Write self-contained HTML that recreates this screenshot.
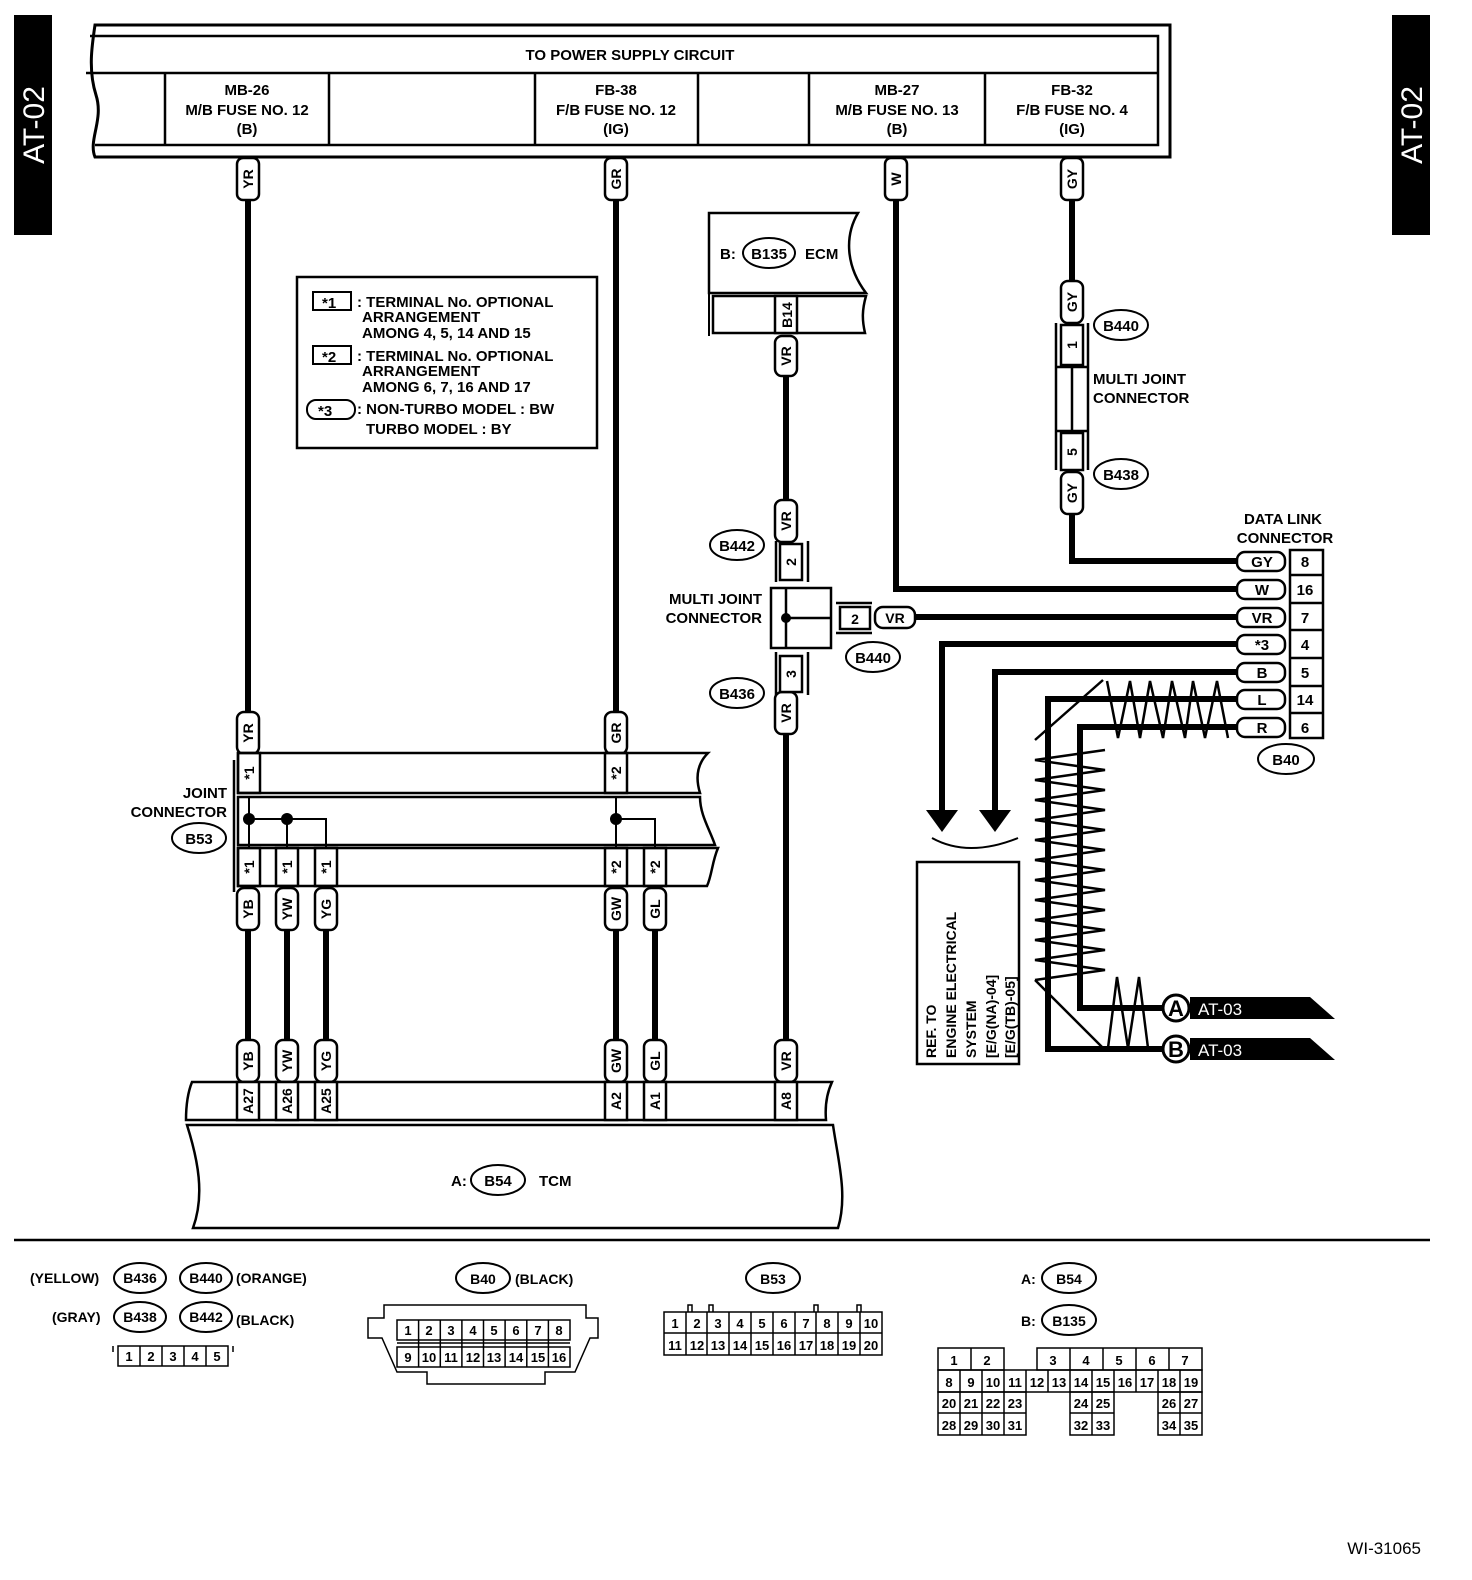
<!DOCTYPE html>
<html><head><meta charset="utf-8"><style>
html,body{margin:0;padding:0;background:#fff}
svg{display:block}
text{font-family:"Liberation Sans",Arial,sans-serif;font-weight:bold;fill:#000}
.t{font-size:15px}
.s{font-size:14px}
.g{font-size:13px;font-weight:normal}
</style></head><body>
<svg width="1472" height="1580" viewBox="0 0 1472 1580" xmlns="http://www.w3.org/2000/svg">
<rect width="1472" height="1580" fill="#fff"/>
<!-- side tabs -->
<rect x="14" y="15" width="38" height="220" fill="#000"/>
<text transform="translate(44,125) rotate(-90)" text-anchor="middle" style="font-size:30px;font-weight:normal;fill:#fff">AT-02</text>
<rect x="1392" y="15" width="38" height="220" fill="#000"/>
<text transform="translate(1422,125) rotate(-90)" text-anchor="middle" style="font-size:30px;font-weight:normal;fill:#fff">AT-02</text>

<g fill="none" stroke="#000" stroke-width="3">
<!-- top box -->
<path d="M95,25 L1170,25 L1170,157 L95,157 C88,140 104,120 96,95 C88,70 92,45 95,25Z"/>
<path d="M90,36 L1158,36 L1158,145 L95,145" stroke-width="2.5"/>
<line x1="86" y1="73" x2="1158" y2="73" stroke-width="2.5"/>
<g stroke-width="2.5">
<line x1="165" y1="73" x2="165" y2="145"/><line x1="329" y1="73" x2="329" y2="145"/>
<line x1="535" y1="73" x2="535" y2="145"/><line x1="698" y1="73" x2="698" y2="145"/>
<line x1="809" y1="73" x2="809" y2="145"/><line x1="985" y1="73" x2="985" y2="145"/>
</g>
</g>
<text x="630" y="60" text-anchor="middle" class="t">TO POWER SUPPLY CIRCUIT</text>
<g class="t" text-anchor="middle">
<text x="247" y="95">MB-26</text><text x="247" y="115">M/B FUSE NO. 12</text><text x="247" y="134">(B)</text>
<text x="616" y="95">FB-38</text><text x="616" y="115">F/B FUSE NO. 12</text><text x="616" y="134">(IG)</text>
<text x="897" y="95">MB-27</text><text x="897" y="115">M/B FUSE NO. 13</text><text x="897" y="134">(B)</text>
<text x="1072" y="95">FB-32</text><text x="1072" y="115">F/B FUSE NO. 4</text><text x="1072" y="134">(IG)</text>
</g>

<!-- thick wires -->
<g stroke="#000" stroke-width="6" fill="none">
<line x1="248" y1="198" x2="248" y2="712"/>
<line x1="616" y1="198" x2="616" y2="712"/>
<polyline points="896,198 896,589 1237,589"/>
<polyline points="1072,198 1072,282"/>
<polyline points="1072,513 1072,561 1237,561"/>
<line x1="786" y1="375" x2="786" y2="502"/>
<line x1="912" y1="617" x2="1237" y2="617"/>
<line x1="786" y1="733" x2="786" y2="1042"/>
<polyline points="1237,644 942,644 942,812"/>
<polyline points="1237,672 995,672 995,812"/>
<polyline points="1237,699 1048,699 1048,1049 1162,1049"/>
<polyline points="1237,727 1080,727 1080,1008 1162,1008"/>
<line x1="248" y1="928" x2="248" y2="1042"/>
<line x1="287" y1="928" x2="287" y2="1042"/>
<line x1="326" y1="928" x2="326" y2="1042"/>
<line x1="616" y1="928" x2="616" y2="1042"/>
<line x1="655" y1="928" x2="655" y2="1042"/>
</g>
<!-- arrowheads -->
<polygon points="926,810 958,810 942,832" fill="#000"/>
<polygon points="979,810 1011,810 995,832" fill="#000"/>
<path d="M932,838 Q968,858 1018,838" fill="none" stroke="#000" stroke-width="2"/>

<!-- shield zigzags -->
<g fill="none" stroke="#000" stroke-width="2.5">
<polyline points="1107,681 1118,738 1130,681 1140,738 1150,681 1163,738 1172,681 1185,738 1193,681 1205,738 1217,681 1228,738"/>
<polyline points="1035,740 1103,680"/>
<polyline points="1105,750 1035,760 1105,770 1035,780 1105,790 1035,800 1105,810 1035,820 1105,830 1035,840 1105,850 1035,860 1105,870 1035,880 1105,890 1035,900 1105,910 1035,920 1105,930 1035,940 1105,950 1035,960 1105,970 1035,980"/>
<polyline points="1035,980 1103,1048"/>
<polyline points="1108,1048 1117,977 1128,1048 1139,977 1148,1048"/>
</g>

<!-- AT-03 flags -->
<polygon points="1190,997 1310,997 1335,1019 1190,1019" fill="#000"/>
<circle cx="1176" cy="1008" r="13" fill="#fff" stroke="#000" stroke-width="3"/>
<text x="1176" y="1016" text-anchor="middle" style="font-size:22px">A</text>
<text x="1198" y="1015" style="font-size:17px;font-weight:normal;fill:#fff">AT-03</text>
<polygon points="1190,1038 1310,1038 1335,1060 1190,1060" fill="#000"/>
<circle cx="1176" cy="1049" r="13" fill="#fff" stroke="#000" stroke-width="3"/>
<text x="1176" y="1057" text-anchor="middle" style="font-size:22px">B</text>
<text x="1198" y="1056" style="font-size:17px;font-weight:normal;fill:#fff">AT-03</text>

<!-- REF box -->
<rect x="917" y="862" width="102" height="202" fill="#fff" stroke="#000" stroke-width="2.5"/>
<g class="s">
<text transform="translate(936,1058) rotate(-90)">REF. TO</text>
<text transform="translate(956,1058) rotate(-90)">ENGINE ELECTRICAL</text>
<text transform="translate(976,1058) rotate(-90)">SYSTEM</text>
<text transform="translate(996,1058) rotate(-90)">[E/G(NA)-04]</text>
<text transform="translate(1015,1058) rotate(-90)">[E/G(TB)-05]</text>
</g>

<!-- Data link connector -->
<text x="1283" y="524" text-anchor="middle" class="t">DATA LINK</text>
<text x="1285" y="543" text-anchor="middle" class="t">CONNECTOR</text>
<g stroke="#000" stroke-width="2.5" fill="#fff">
<rect x="1290" y="550" width="33" height="188"/>
<rect x="1237" y="552" width="48" height="19" rx="8"/>
<rect x="1237" y="580" width="48" height="19" rx="8"/>
<rect x="1237" y="608" width="48" height="19" rx="8"/>
<rect x="1237" y="635" width="48" height="19" rx="8"/>
<rect x="1237" y="663" width="48" height="19" rx="8"/>
<rect x="1237" y="690" width="48" height="19" rx="8"/>
<rect x="1237" y="718" width="48" height="19" rx="8"/>
<line x1="1290" y1="575" x2="1323" y2="575"/><line x1="1290" y1="603" x2="1323" y2="603"/>
<line x1="1290" y1="630" x2="1323" y2="630"/><line x1="1290" y1="658" x2="1323" y2="658"/>
<line x1="1290" y1="686" x2="1323" y2="686"/><line x1="1290" y1="713" x2="1323" y2="713"/>
</g>
<g class="t" text-anchor="middle">
<text x="1262" y="567">GY</text><text x="1305" y="567">8</text>
<text x="1262" y="595">W</text><text x="1305" y="595">16</text>
<text x="1262" y="623">VR</text><text x="1305" y="623">7</text>
<text x="1262" y="650">*3</text><text x="1305" y="650">4</text>
<text x="1262" y="678">B</text><text x="1305" y="678">5</text>
<text x="1262" y="705">L</text><text x="1305" y="705">14</text>
<text x="1262" y="733">R</text><text x="1305" y="733">6</text>
</g>
<ellipse cx="1286" cy="759" rx="28" ry="15" fill="#fff" stroke="#000" stroke-width="2"/>
<text x="1286" y="765" text-anchor="middle" class="t">B40</text>

<!-- ECM -->
<path d="M709,213 L858,213 C845,235 845,265 866,293 L709,293 Z" fill="#fff" stroke="#000" stroke-width="2.5"/>
<path d="M713,296 L866,296 C862,310 862,320 865,333 L713,333 Z" fill="#fff" stroke="#000" stroke-width="2.5"/>
<line x1="709" y1="293" x2="709" y2="336" stroke="#000" stroke-width="2"/>
<rect x="775" y="296" width="22" height="37" fill="#fff" stroke="#000" stroke-width="2.5"/>
<text transform="translate(792,315) rotate(-90)" text-anchor="middle" class="s">B14</text>
<text x="720" y="259" class="t">B:</text>
<ellipse cx="769" cy="253" rx="26" ry="15" fill="#fff" stroke="#000" stroke-width="2"/>
<text x="769" y="259" text-anchor="middle" class="t">B135</text>
<text x="805" y="259" class="t">ECM</text>

<!-- wire tags -->
<g stroke="#000" stroke-width="2.5" fill="#fff">
<rect x="237" y="158" width="22" height="42" rx="6"/>
<rect x="605" y="158" width="22" height="42" rx="6"/>
<rect x="885" y="158" width="22" height="42" rx="6"/>
<rect x="1061" y="158" width="22" height="42" rx="6"/>
<rect x="775" y="336" width="22" height="40" rx="7"/>
<rect x="1061" y="281" width="22" height="42" rx="7"/>
<rect x="1061" y="472" width="22" height="42" rx="7"/>
<rect x="775" y="500" width="22" height="42" rx="7"/>
<rect x="775" y="692" width="22" height="42" rx="7"/>
<rect x="237" y="712" width="22" height="42" rx="7"/>
<rect x="605" y="712" width="22" height="42" rx="7"/>
<rect x="237" y="888" width="22" height="42" rx="7"/>
<rect x="276" y="888" width="22" height="42" rx="7"/>
<rect x="315" y="888" width="22" height="42" rx="7"/>
<rect x="605" y="888" width="22" height="42" rx="7"/>
<rect x="644" y="888" width="22" height="42" rx="7"/>
<rect x="237" y="1040" width="22" height="42" rx="7"/>
<rect x="276" y="1040" width="22" height="42" rx="7"/>
<rect x="315" y="1040" width="22" height="42" rx="7"/>
<rect x="605" y="1040" width="22" height="42" rx="7"/>
<rect x="644" y="1040" width="22" height="42" rx="7"/>
<rect x="775" y="1040" width="22" height="42" rx="7"/>
<rect x="875" y="607" width="40" height="21" rx="8"/>
</g>
<g class="s" text-anchor="middle">
<text transform="translate(253,179) rotate(-90)">YR</text>
<text transform="translate(621,179) rotate(-90)">GR</text>
<text transform="translate(901,179) rotate(-90)">W</text>
<text transform="translate(1077,179) rotate(-90)">GY</text>
<text transform="translate(791,356) rotate(-90)">VR</text>
<text transform="translate(1077,302) rotate(-90)">GY</text>
<text transform="translate(1077,493) rotate(-90)">GY</text>
<text transform="translate(791,521) rotate(-90)">VR</text>
<text transform="translate(791,713) rotate(-90)">VR</text>
<text transform="translate(253,733) rotate(-90)">YR</text>
<text transform="translate(621,733) rotate(-90)">GR</text>
<text transform="translate(253,909) rotate(-90)">YB</text>
<text transform="translate(292,909) rotate(-90)">YW</text>
<text transform="translate(331,909) rotate(-90)">YG</text>
<text transform="translate(621,909) rotate(-90)">GW</text>
<text transform="translate(660,909) rotate(-90)">GL</text>
<text transform="translate(253,1061) rotate(-90)">YB</text>
<text transform="translate(292,1061) rotate(-90)">YW</text>
<text transform="translate(331,1061) rotate(-90)">YG</text>
<text transform="translate(621,1061) rotate(-90)">GW</text>
<text transform="translate(660,1061) rotate(-90)">GL</text>
<text transform="translate(791,1061) rotate(-90)">VR</text>
<text x="895" y="623">VR</text>
</g>

<!-- multi joint GY -->
<g stroke="#000" stroke-width="2.5" fill="#fff">
<line x1="1056" y1="323" x2="1056" y2="470"/><line x1="1088" y1="323" x2="1088" y2="470"/>
<rect x="1061" y="325" width="22" height="40"/>
<rect x="1061" y="433" width="22" height="37"/>
<line x1="1056" y1="367" x2="1088" y2="367"/><line x1="1056" y1="431" x2="1088" y2="431"/>
<line x1="1072" y1="367" x2="1072" y2="431"/>
</g>
<text transform="translate(1077,345) rotate(-90)" text-anchor="middle" class="s">1</text>
<text transform="translate(1077,452) rotate(-90)" text-anchor="middle" class="s">5</text>
<ellipse cx="1121" cy="325" rx="27" ry="15" fill="#fff" stroke="#000" stroke-width="2"/>
<text x="1121" y="331" text-anchor="middle" class="t">B440</text>
<ellipse cx="1121" cy="474" rx="27" ry="15" fill="#fff" stroke="#000" stroke-width="2"/>
<text x="1121" y="480" text-anchor="middle" class="t">B438</text>
<text x="1093" y="384" class="t">MULTI JOINT</text>
<text x="1093" y="403" class="t">CONNECTOR</text>

<!-- multi joint VR -->
<g stroke="#000" stroke-width="2.5" fill="#fff">
<line x1="776" y1="541" x2="776" y2="582"/><line x1="808" y1="541" x2="808" y2="582"/>
<rect x="780" y="544" width="22" height="36"/>
<rect x="771" y="588" width="60" height="60"/>
<line x1="786" y1="588" x2="786" y2="648"/><line x1="786" y1="618" x2="831" y2="618"/>
<line x1="836" y1="603" x2="872" y2="603"/><line x1="836" y1="633" x2="872" y2="633"/>
<rect x="840" y="607" width="30" height="22"/>
<line x1="776" y1="652" x2="776" y2="695"/><line x1="808" y1="652" x2="808" y2="695"/>
<rect x="780" y="656" width="22" height="36"/>
</g>
<circle cx="786" cy="618" r="5" fill="#000"/>
<text transform="translate(796,562) rotate(-90)" text-anchor="middle" class="s">2</text>
<text transform="translate(796,674) rotate(-90)" text-anchor="middle" class="s">3</text>
<text x="855" y="624" text-anchor="middle" class="s">2</text>
<ellipse cx="737" cy="545" rx="27" ry="15" fill="#fff" stroke="#000" stroke-width="2"/>
<text x="737" y="551" text-anchor="middle" class="t">B442</text>
<ellipse cx="737" cy="693" rx="27" ry="15" fill="#fff" stroke="#000" stroke-width="2"/>
<text x="737" y="699" text-anchor="middle" class="t">B436</text>
<ellipse cx="873" cy="657" rx="27" ry="15" fill="#fff" stroke="#000" stroke-width="2"/>
<text x="873" y="663" text-anchor="middle" class="t">B440</text>
<text x="762" y="604" text-anchor="end" class="t">MULTI JOINT</text>
<text x="762" y="623" text-anchor="end" class="t">CONNECTOR</text>

<!-- legend box -->
<rect x="297" y="277" width="300" height="171" fill="#fff" stroke="#000" stroke-width="2.5"/>
<g stroke="#000" stroke-width="2" fill="#fff">
<rect x="313" y="292" width="38" height="18"/>
<rect x="313" y="346" width="38" height="18"/>
<rect x="307" y="400" width="48" height="19" rx="9"/>
</g>
<g class="t">
<text x="322" y="308">*1</text><text x="322" y="362">*2</text><text x="318" y="416">*3</text>
<text x="357" y="307">: TERMINAL No. OPTIONAL</text>
<text x="362" y="322">ARRANGEMENT</text>
<text x="362" y="338">AMONG 4, 5, 14 AND 15</text>
<text x="357" y="361">: TERMINAL No. OPTIONAL</text>
<text x="362" y="376">ARRANGEMENT</text>
<text x="362" y="392">AMONG 6, 7, 16 AND 17</text>
<text x="357" y="414">: NON-TURBO MODEL  : BW</text>
<text x="366" y="434">TURBO MODEL  : BY</text>
</g>

<!-- joint connector B53 -->
<g stroke="#000" stroke-width="2.5" fill="none">
<line x1="234" y1="760" x2="234" y2="892"/>
<path d="M238,753 L708,753 C696,765 696,780 700,793 L238,793 Z" fill="#fff"/>
<path d="M238,797 L700,797 C700,815 710,830 715,845 L238,845 Z" fill="#fff"/>
<path d="M238,848 L718,848 C712,862 712,875 707,886 L238,886 Z" fill="#fff"/>
<rect x="238" y="753" width="22" height="40"/>
<rect x="605" y="753" width="22" height="40"/>
<rect x="238" y="848" width="22" height="38"/>
<rect x="276" y="848" width="22" height="38"/>
<rect x="315" y="848" width="22" height="38"/>
<rect x="605" y="848" width="22" height="38"/>
<rect x="644" y="848" width="22" height="38"/>
<polyline points="249,797 249,848" stroke-width="2"/>
<polyline points="249,819 326,819 326,848" stroke-width="2"/>
<line x1="287" y1="819" x2="287" y2="848" stroke-width="2"/>
<line x1="616" y1="797" x2="616" y2="848" stroke-width="2"/>
<polyline points="616,819 655,819 655,848" stroke-width="2"/>
</g>
<circle cx="249" cy="819" r="6" fill="#000"/><circle cx="287" cy="819" r="6" fill="#000"/><circle cx="616" cy="819" r="6" fill="#000"/>
<g class="s" text-anchor="middle">
<text transform="translate(254,773) rotate(-90)">*1</text>
<text transform="translate(621,773) rotate(-90)">*2</text>
<text transform="translate(254,867) rotate(-90)">*1</text>
<text transform="translate(292,867) rotate(-90)">*1</text>
<text transform="translate(331,867) rotate(-90)">*1</text>
<text transform="translate(621,867) rotate(-90)">*2</text>
<text transform="translate(660,867) rotate(-90)">*2</text>
</g>
<text x="227" y="798" text-anchor="end" class="t">JOINT</text>
<text x="227" y="817" text-anchor="end" class="t">CONNECTOR</text>
<ellipse cx="199" cy="838" rx="27" ry="15" fill="#fff" stroke="#000" stroke-width="2"/>
<text x="199" y="844" text-anchor="middle" class="t">B53</text>

<!-- TCM -->
<g stroke="#000" stroke-width="2.5" fill="#fff">
<path d="M192,1082 L832,1082 C826,1095 825,1108 826,1120 L186,1120 C186,1105 188,1092 192,1082Z"/>
<path d="M187,1125 L833,1125 C838,1160 848,1195 838,1228 L193,1228 C205,1195 198,1160 187,1125Z"/>
<rect x="237" y="1082" width="22" height="38"/>
<rect x="276" y="1082" width="22" height="38"/>
<rect x="315" y="1082" width="22" height="38"/>
<rect x="605" y="1082" width="22" height="38"/>
<rect x="644" y="1082" width="22" height="38"/>
<rect x="775" y="1082" width="22" height="38"/>
</g>
<g class="s" text-anchor="middle">
<text transform="translate(253,1101) rotate(-90)">A27</text>
<text transform="translate(292,1101) rotate(-90)">A26</text>
<text transform="translate(331,1101) rotate(-90)">A25</text>
<text transform="translate(621,1101) rotate(-90)">A2</text>
<text transform="translate(660,1101) rotate(-90)">A1</text>
<text transform="translate(791,1101) rotate(-90)">A8</text>
</g>
<text x="451" y="1186" class="t">A:</text>
<ellipse cx="498" cy="1180" rx="27" ry="15" fill="#fff" stroke="#000" stroke-width="2"/>
<text x="498" y="1186" text-anchor="middle" class="t">B54</text>
<text x="539" y="1186" class="t">TCM</text>

<line x1="14" y1="1240" x2="1430" y2="1240" stroke="#000" stroke-width="2.5"/>

<!-- bottom legends -->
<g fill="#fff" stroke="#000" stroke-width="2">
<ellipse cx="140" cy="1278" rx="26" ry="15"/><ellipse cx="206" cy="1278" rx="26" ry="15"/>
<ellipse cx="140" cy="1317" rx="26" ry="15"/><ellipse cx="206" cy="1317" rx="26" ry="15"/>
<ellipse cx="483" cy="1278" rx="27" ry="15"/><ellipse cx="773" cy="1278" rx="27" ry="15"/>
<ellipse cx="1069" cy="1278" rx="27" ry="15"/><ellipse cx="1069" cy="1320" rx="27" ry="15"/>
</g>
<g class="s" text-anchor="middle">
<text x="140" y="1283">B436</text><text x="206" y="1283">B440</text>
<text x="140" y="1322">B438</text><text x="206" y="1322">B442</text>
<text x="483" y="1284">B40</text><text x="773" y="1284">B53</text>
<text x="1069" y="1284">B54</text><text x="1069" y="1326">B135</text>
</g>
<g class="s">
<text x="30" y="1283">(YELLOW)</text><text x="236" y="1283">(ORANGE)</text>
<text x="52" y="1322">(GRAY)</text><text x="236" y="1325">(BLACK)</text>
<text x="515" y="1284">(BLACK)</text>
<text x="1021" y="1284">A:</text><text x="1021" y="1326">B:</text>
</g>
<!-- B436 grid -->
<g fill="none" stroke="#000" stroke-width="1.5">
<rect x="118" y="1346" width="110" height="20"/>
<line x1="140" y1="1346" x2="140" y2="1366"/><line x1="162" y1="1346" x2="162" y2="1366"/>
<line x1="184" y1="1346" x2="184" y2="1366"/><line x1="206" y1="1346" x2="206" y2="1366"/>
<path d="M113,1346 L113,1352 M233,1346 L233,1352"/>
</g>
<g class="g" text-anchor="middle">
<text x="129" y="1361">1</text><text x="151" y="1361">2</text><text x="173" y="1361">3</text><text x="195" y="1361">4</text><text x="217" y="1361">5</text>
</g>
<!-- B40 grid -->
<g fill="none" stroke="#000" stroke-width="1.5">
<path d="M384,1305 L586,1305 L586,1318 L598,1318 L598,1338 L590,1338 L575,1372 L545,1372 L545,1384 L427,1384 L427,1372 L397,1372 L382,1338 L368,1338 L368,1318 L384,1318 Z"/>
<rect x="397" y="1320" width="173" height="20"/>
<rect x="397" y="1347" width="173" height="20"/>
<line x1="397" y1="1343" x2="570" y2="1343"/>
</g>
<g fill="none" stroke="#000" stroke-width="1.5">
<line x1="418.6" y1="1320" x2="418.6" y2="1367"/><line x1="440.3" y1="1320" x2="440.3" y2="1367"/>
<line x1="461.9" y1="1320" x2="461.9" y2="1367"/><line x1="483.5" y1="1320" x2="483.5" y2="1367"/>
<line x1="505.1" y1="1320" x2="505.1" y2="1367"/><line x1="526.8" y1="1320" x2="526.8" y2="1367"/>
<line x1="548.4" y1="1320" x2="548.4" y2="1367"/>
</g>
<g class="g" text-anchor="middle">
<text x="408" y="1335">1</text><text x="429" y="1335">2</text><text x="451" y="1335">3</text><text x="473" y="1335">4</text><text x="494" y="1335">5</text><text x="516" y="1335">6</text><text x="538" y="1335">7</text><text x="559" y="1335">8</text>
<text x="408" y="1362">9</text><text x="429" y="1362">10</text><text x="451" y="1362">11</text><text x="473" y="1362">12</text><text x="494" y="1362">13</text><text x="516" y="1362">14</text><text x="538" y="1362">15</text><text x="559" y="1362">16</text>
</g>
<!-- B53 grid -->
<g fill="none" stroke="#000" stroke-width="1.5">
<rect x="664" y="1312" width="218" height="43"/>
<line x1="664" y1="1333" x2="882" y2="1333"/>
<line x1="686" y1="1312" x2="686" y2="1355"/><line x1="707" y1="1312" x2="707" y2="1355"/>
<line x1="729" y1="1312" x2="729" y2="1355"/><line x1="751" y1="1312" x2="751" y2="1355"/>
<line x1="773" y1="1312" x2="773" y2="1355"/><line x1="795" y1="1312" x2="795" y2="1355"/>
<line x1="816" y1="1312" x2="816" y2="1355"/><line x1="838" y1="1312" x2="838" y2="1355"/>
<line x1="860" y1="1312" x2="860" y2="1355"/>
<path d="M688,1312 V1305 H692 V1312 M709,1312 V1305 H713 V1312 M814,1312 V1305 H818 V1312 M857,1312 V1305 H861 V1312"/>
</g>
<g class="g" text-anchor="middle">
<text x="675" y="1328">1</text><text x="697" y="1328">2</text><text x="718" y="1328">3</text><text x="740" y="1328">4</text><text x="762" y="1328">5</text><text x="784" y="1328">6</text><text x="806" y="1328">7</text><text x="827" y="1328">8</text><text x="849" y="1328">9</text><text x="871" y="1328">10</text>
<text x="675" y="1350">11</text><text x="697" y="1350">12</text><text x="718" y="1350">13</text><text x="740" y="1350">14</text><text x="762" y="1350">15</text><text x="784" y="1350">16</text><text x="806" y="1350">17</text><text x="827" y="1350">18</text><text x="849" y="1350">19</text><text x="871" y="1350">20</text>
</g>
<!-- B135 grid -->
<g fill="none" stroke="#000" stroke-width="1.5">
<rect x="938" y="1348" width="66" height="22"/><line x1="971" y1="1348" x2="971" y2="1370"/>
<rect x="1037" y="1348" width="165" height="22"/>
<line x1="1070" y1="1348" x2="1070" y2="1370"/><line x1="1103" y1="1348" x2="1103" y2="1370"/>
<line x1="1136" y1="1348" x2="1136" y2="1370"/><line x1="1169" y1="1348" x2="1169" y2="1370"/>
<rect x="938" y="1370" width="264" height="22"/>
<line x1="960" y1="1370" x2="960" y2="1392"/><line x1="982" y1="1370" x2="982" y2="1392"/>
<line x1="1004" y1="1370" x2="1004" y2="1392"/><line x1="1026" y1="1370" x2="1026" y2="1392"/>
<line x1="1048" y1="1370" x2="1048" y2="1392"/><line x1="1070" y1="1370" x2="1070" y2="1392"/>
<line x1="1092" y1="1370" x2="1092" y2="1392"/><line x1="1114" y1="1370" x2="1114" y2="1392"/>
<line x1="1136" y1="1370" x2="1136" y2="1392"/><line x1="1158" y1="1370" x2="1158" y2="1392"/>
<line x1="1180" y1="1370" x2="1180" y2="1392"/>
<rect x="938" y="1392" width="88" height="43"/><line x1="938" y1="1413" x2="1026" y2="1413"/>
<line x1="960" y1="1392" x2="960" y2="1435"/><line x1="982" y1="1392" x2="982" y2="1435"/><line x1="1004" y1="1392" x2="1004" y2="1435"/>
<rect x="1070" y="1392" width="44" height="43"/><line x1="1070" y1="1413" x2="1114" y2="1413"/><line x1="1092" y1="1392" x2="1092" y2="1435"/>
<rect x="1158" y="1392" width="44" height="43"/><line x1="1158" y1="1413" x2="1202" y2="1413"/><line x1="1180" y1="1392" x2="1180" y2="1435"/>
</g>
<g class="g" text-anchor="middle">
<text x="954" y="1365">1</text><text x="987" y="1365">2</text><text x="1053" y="1365">3</text><text x="1086" y="1365">4</text><text x="1119" y="1365">5</text><text x="1152" y="1365">6</text><text x="1185" y="1365">7</text>
<text x="949" y="1387">8</text><text x="971" y="1387">9</text><text x="993" y="1387">10</text><text x="1015" y="1387">11</text><text x="1037" y="1387">12</text><text x="1059" y="1387">13</text><text x="1081" y="1387">14</text><text x="1103" y="1387">15</text><text x="1125" y="1387">16</text><text x="1147" y="1387">17</text><text x="1169" y="1387">18</text><text x="1191" y="1387">19</text>
<text x="949" y="1408">20</text><text x="971" y="1408">21</text><text x="993" y="1408">22</text><text x="1015" y="1408">23</text><text x="1081" y="1408">24</text><text x="1103" y="1408">25</text><text x="1169" y="1408">26</text><text x="1191" y="1408">27</text>
<text x="949" y="1430">28</text><text x="971" y="1430">29</text><text x="993" y="1430">30</text><text x="1015" y="1430">31</text><text x="1081" y="1430">32</text><text x="1103" y="1430">33</text><text x="1169" y="1430">34</text><text x="1191" y="1430">35</text>
</g>

<text x="1421" y="1554" text-anchor="end" style="font-size:17px;font-weight:normal">WI-31065</text>
</svg>
</body></html>
